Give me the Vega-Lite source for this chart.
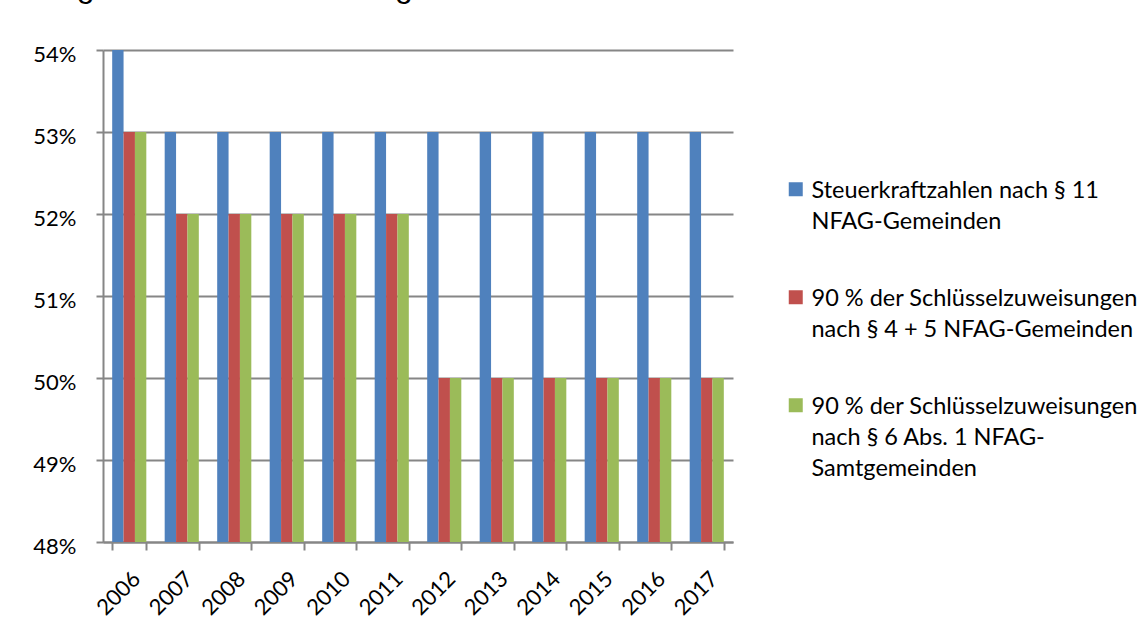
{
  "$schema": "https://vega.github.io/schema/vega-lite/v6.json",
  "autosize": "none",
  "width": 630,
  "height": 492,
  "padding": {"left": 103, "top": 50, "right": 414, "bottom": 95},
  "background": "white",
  "config": {
    "view": {"stroke": null},
    "font": "Lato",
    "style": {"guide-label": {"lineHeight": 31}}
  },
  "title": {
    "text": "Umlagesätze der Kreisumlage von 2006 bis 2017",
    "anchor": "start",
    "frame": "group",
    "font": "Liberation Sans",
    "fontSize": 32,
    "fontWeight": "normal",
    "color": "black",
    "baseline": "alphabetic",
    "dx": -101,
    "offset": 14
  },
  "data": {
    "values": [
      {"Jahr": "2006", "Reihe": "Steuerkraftzahlen nach § 11\nNFAG-Gemeinden", "Wert": 0.54},
      {"Jahr": "2006", "Reihe": "90 % der Schlüsselzuweisungen\nnach § 4 + 5 NFAG-Gemeinden", "Wert": 0.53},
      {"Jahr": "2006", "Reihe": "90 % der Schlüsselzuweisungen\nnach § 6 Abs. 1 NFAG-\nSamtgemeinden", "Wert": 0.53},
      {"Jahr": "2007", "Reihe": "Steuerkraftzahlen nach § 11\nNFAG-Gemeinden", "Wert": 0.53},
      {"Jahr": "2007", "Reihe": "90 % der Schlüsselzuweisungen\nnach § 4 + 5 NFAG-Gemeinden", "Wert": 0.52},
      {"Jahr": "2007", "Reihe": "90 % der Schlüsselzuweisungen\nnach § 6 Abs. 1 NFAG-\nSamtgemeinden", "Wert": 0.52},
      {"Jahr": "2008", "Reihe": "Steuerkraftzahlen nach § 11\nNFAG-Gemeinden", "Wert": 0.53},
      {"Jahr": "2008", "Reihe": "90 % der Schlüsselzuweisungen\nnach § 4 + 5 NFAG-Gemeinden", "Wert": 0.52},
      {"Jahr": "2008", "Reihe": "90 % der Schlüsselzuweisungen\nnach § 6 Abs. 1 NFAG-\nSamtgemeinden", "Wert": 0.52},
      {"Jahr": "2009", "Reihe": "Steuerkraftzahlen nach § 11\nNFAG-Gemeinden", "Wert": 0.53},
      {"Jahr": "2009", "Reihe": "90 % der Schlüsselzuweisungen\nnach § 4 + 5 NFAG-Gemeinden", "Wert": 0.52},
      {"Jahr": "2009", "Reihe": "90 % der Schlüsselzuweisungen\nnach § 6 Abs. 1 NFAG-\nSamtgemeinden", "Wert": 0.52},
      {"Jahr": "2010", "Reihe": "Steuerkraftzahlen nach § 11\nNFAG-Gemeinden", "Wert": 0.53},
      {"Jahr": "2010", "Reihe": "90 % der Schlüsselzuweisungen\nnach § 4 + 5 NFAG-Gemeinden", "Wert": 0.52},
      {"Jahr": "2010", "Reihe": "90 % der Schlüsselzuweisungen\nnach § 6 Abs. 1 NFAG-\nSamtgemeinden", "Wert": 0.52},
      {"Jahr": "2011", "Reihe": "Steuerkraftzahlen nach § 11\nNFAG-Gemeinden", "Wert": 0.53},
      {"Jahr": "2011", "Reihe": "90 % der Schlüsselzuweisungen\nnach § 4 + 5 NFAG-Gemeinden", "Wert": 0.52},
      {"Jahr": "2011", "Reihe": "90 % der Schlüsselzuweisungen\nnach § 6 Abs. 1 NFAG-\nSamtgemeinden", "Wert": 0.52},
      {"Jahr": "2012", "Reihe": "Steuerkraftzahlen nach § 11\nNFAG-Gemeinden", "Wert": 0.53},
      {"Jahr": "2012", "Reihe": "90 % der Schlüsselzuweisungen\nnach § 4 + 5 NFAG-Gemeinden", "Wert": 0.50},
      {"Jahr": "2012", "Reihe": "90 % der Schlüsselzuweisungen\nnach § 6 Abs. 1 NFAG-\nSamtgemeinden", "Wert": 0.50},
      {"Jahr": "2013", "Reihe": "Steuerkraftzahlen nach § 11\nNFAG-Gemeinden", "Wert": 0.53},
      {"Jahr": "2013", "Reihe": "90 % der Schlüsselzuweisungen\nnach § 4 + 5 NFAG-Gemeinden", "Wert": 0.50},
      {"Jahr": "2013", "Reihe": "90 % der Schlüsselzuweisungen\nnach § 6 Abs. 1 NFAG-\nSamtgemeinden", "Wert": 0.50},
      {"Jahr": "2014", "Reihe": "Steuerkraftzahlen nach § 11\nNFAG-Gemeinden", "Wert": 0.53},
      {"Jahr": "2014", "Reihe": "90 % der Schlüsselzuweisungen\nnach § 4 + 5 NFAG-Gemeinden", "Wert": 0.50},
      {"Jahr": "2014", "Reihe": "90 % der Schlüsselzuweisungen\nnach § 6 Abs. 1 NFAG-\nSamtgemeinden", "Wert": 0.50},
      {"Jahr": "2015", "Reihe": "Steuerkraftzahlen nach § 11\nNFAG-Gemeinden", "Wert": 0.53},
      {"Jahr": "2015", "Reihe": "90 % der Schlüsselzuweisungen\nnach § 4 + 5 NFAG-Gemeinden", "Wert": 0.50},
      {"Jahr": "2015", "Reihe": "90 % der Schlüsselzuweisungen\nnach § 6 Abs. 1 NFAG-\nSamtgemeinden", "Wert": 0.50},
      {"Jahr": "2016", "Reihe": "Steuerkraftzahlen nach § 11\nNFAG-Gemeinden", "Wert": 0.53},
      {"Jahr": "2016", "Reihe": "90 % der Schlüsselzuweisungen\nnach § 4 + 5 NFAG-Gemeinden", "Wert": 0.50},
      {"Jahr": "2016", "Reihe": "90 % der Schlüsselzuweisungen\nnach § 6 Abs. 1 NFAG-\nSamtgemeinden", "Wert": 0.50},
      {"Jahr": "2017", "Reihe": "Steuerkraftzahlen nach § 11\nNFAG-Gemeinden", "Wert": 0.53},
      {"Jahr": "2017", "Reihe": "90 % der Schlüsselzuweisungen\nnach § 4 + 5 NFAG-Gemeinden", "Wert": 0.50},
      {"Jahr": "2017", "Reihe": "90 % der Schlüsselzuweisungen\nnach § 6 Abs. 1 NFAG-\nSamtgemeinden", "Wert": 0.50}
    ]
  },
  "mark": {"type": "bar"},
  "encoding": {
    "x": {
      "field": "Jahr",
      "type": "nominal",
      "scale": {"paddingInner": 0.35, "paddingOuter": 0.175},
      "axis": {
        "title": null,
        "labelAngle": -45,
        "labelFontSize": 22,
        "labelColor": "black",
        "labelPadding": 18,
        "domainColor": "#868686",
        "domainWidth": 2,
        "tickColor": "#868686",
        "tickWidth": 2,
        "tickSize": 8,
        "tickBand": "extent"
      }
    },
    "xOffset": {
      "field": "Reihe",
      "scale": {
        "paddingInner": 0,
        "domain": [
          "Steuerkraftzahlen nach § 11\nNFAG-Gemeinden",
          "90 % der Schlüsselzuweisungen\nnach § 4 + 5 NFAG-Gemeinden",
          "90 % der Schlüsselzuweisungen\nnach § 6 Abs. 1 NFAG-\nSamtgemeinden"
        ]
      }
    },
    "y": {
      "field": "Wert",
      "type": "quantitative",
      "scale": {"domain": [0.48, 0.54], "zero": false, "nice": false},
      "axis": {
        "title": null,
        "format": ".0%",
        "values": [0.48, 0.49, 0.5, 0.51, 0.52, 0.53, 0.54],
        "labelFontSize": 22,
        "labelColor": "black",
        "labelPadding": 20,
        "labelOffset": 4,
        "tickSize": 7,
        "tickColor": "#868686",
        "tickWidth": 2,
        "grid": true,
        "gridColor": "#868686",
        "gridWidth": 2,
        "domainColor": "#868686",
        "domainWidth": 2
      }
    },
    "y2": {"datum": 0.48},
    "color": {
      "field": "Reihe",
      "type": "nominal",
      "scale": {
        "domain": [
          "Steuerkraftzahlen nach § 11\nNFAG-Gemeinden",
          "90 % der Schlüsselzuweisungen\nnach § 4 + 5 NFAG-Gemeinden",
          "90 % der Schlüsselzuweisungen\nnach § 6 Abs. 1 NFAG-\nSamtgemeinden"
        ],
        "range": ["#4F81BD", "#C0504D", "#9BBB59"]
      },
      "legend": {
        "title": null,
        "orient": "none",
        "legendX": 681,
        "legendY": 117,
        "padding": 0,
        "symbolType": "M-1,0.5H1V2.5H-1Z",
        "symbolSize": 196,
        "symbolStrokeWidth": 0,
        "labelFontSize": 23.5,
        "labelColor": "black",
        "labelLimit": 500,
        "labelBaseline": "top",
        "labelExpr": "split(datum.label, '\\n')",
        "rowPadding": 41,
        "labelOffset": 4
      }
    }
  }
}
